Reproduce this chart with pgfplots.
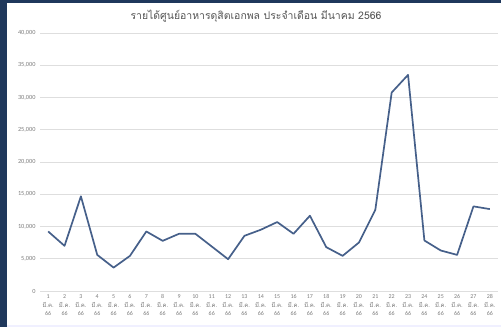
\documentclass[border=0pt]{standalone}
\usepackage{fontspec}
\setmainfont{Carlito}
\newfontfamily\thaifont[Script=Thai]{Loma}
\usepackage{pgfplots}
\pgfplotsset{compat=1.18}
\definecolor{frameblue}{RGB}{31,56,92}
\definecolor{linec}{RGB}{70,96,138}
\definecolor{gridc}{RGB}{222,222,222}
\definecolor{labc}{RGB}{125,125,125}
\definecolor{titlec}{RGB}{85,85,85}
\begin{document}
\begin{tikzpicture}[x=1bp,y=1bp]
\useasboundingbox (0,0) rectangle (501,327);
\fill[white] (0,0) rectangle (501,327);
\fill[frameblue] (0,0) rectangle (7,327);
\fill[frameblue] (0,324) rectangle (501,327);
\fill[blue!6] (7,0) rectangle (501,2);
\node[font=\thaifont\fontsize{10.5}{12}\selectfont, text=titlec] at (256,311)
  {รายได้ศูนย์อาหารดุสิตเอกพล ประจำเดือน มีนาคม 2566};
\begin{axis}[
  at={(40bp,36bp)}, anchor=south west,
  scale only axis, width=458bp, height=258bp,
  xmin=0.5, xmax=28.5, ymin=0, ymax=40000,
  xtick={1,...,28}, ytick={0,5000,...,40000},
  scaled y ticks=false,
  /pgf/number format/.cd, fixed, 1000 sep={,}, assume math mode=true, /pgfplots/.cd,
  axis line style={draw=none},
  major tick length=0pt,
  ymajorgrids, grid style={gridc, line width=0.8bp},
  yticklabel style={font=\fontsize{6.3}{7}\selectfont, text=labc, xshift=-1bp},
  xticklabel={\strut\pgfmathprintnumber{\tick}\\\strut{\thaifont มี.ค.}\\\strut 66},
  xticklabel style={align=center, font=\fontsize{6}{8.5}\selectfont, text=labc,
    inner sep=1.5bp},
]
\addplot[color=linec, line width=1.7bp, line join=round] coordinates {
(1,9230) (2,7000) (3,14680) (4,5600) (5,3630) (6,5450) (7,9230)
(8,7780) (9,8870) (10,8870) (11,6900) (12,4930) (13,8560) (14,9500)
(15,10690) (16,8870) (17,11670) (18,6800) (19,5450) (20,7520) (21,12600)
(22,30770) (23,33510) (24,7830) (25,6280) (26,5600) (27,13120) (28,12700)
};
\end{axis}
\end{tikzpicture}
\end{document}
